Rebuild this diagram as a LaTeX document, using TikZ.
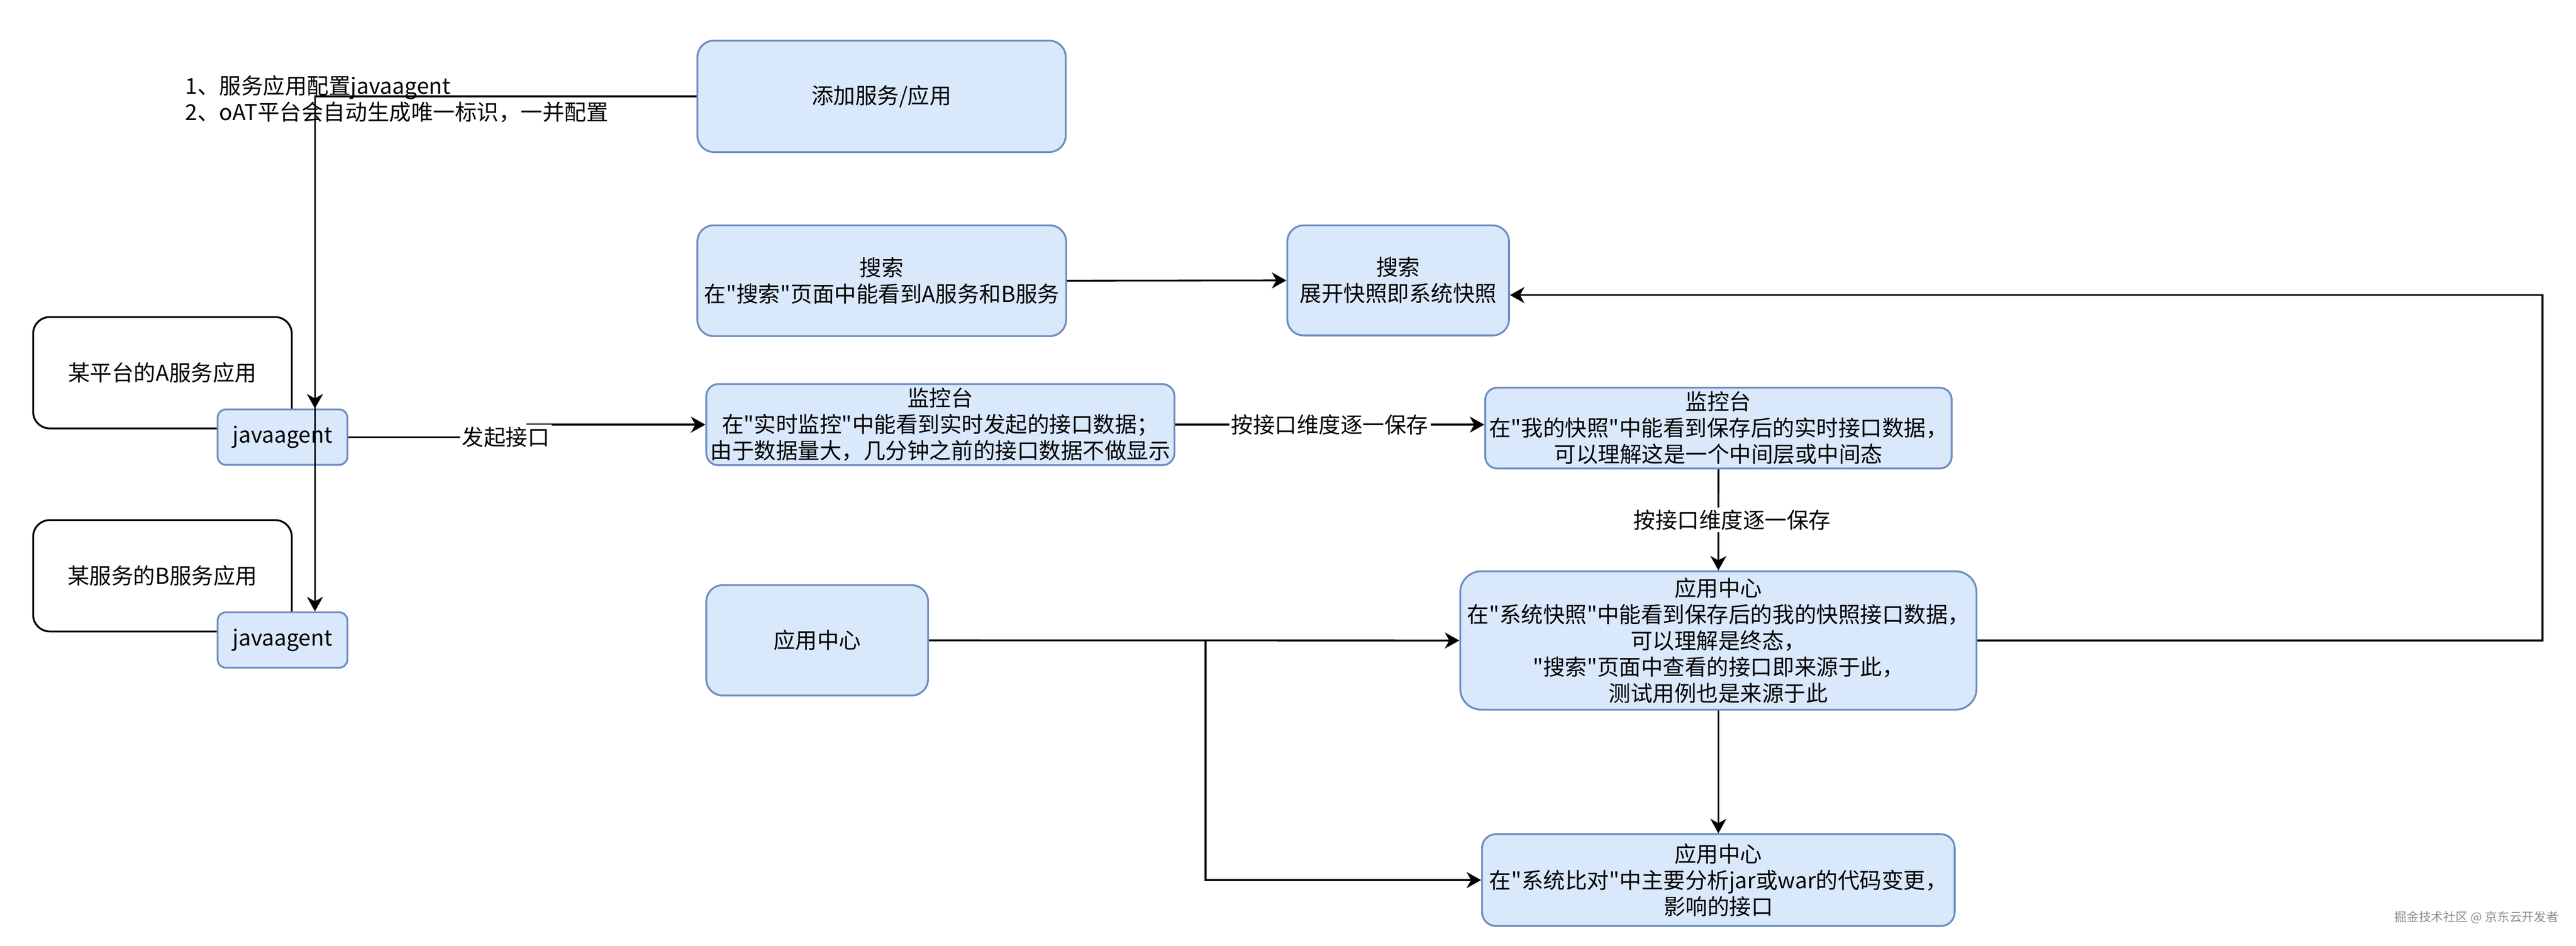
\documentclass[tikz,border=0pt]{standalone}
\usepackage{fontspec}
\newfontfamily\cjkfont{Noto Sans CJK SC}
\usepackage{tikz}
\usetikzlibrary{arrows.meta}
\definecolor{boxfill}{HTML}{DAE8FC}
\definecolor{boxline}{HTML}{6C8EBF}
\tikzset{
	bluebox/.style={
		% The shape:
		shape=rectangle,rounded corners=#1,
		% The border:
		draw=boxline,line width=0.84pt,
		% The filling:
		fill=boxfill,
		% The text:
		inner sep=0pt,align=center,
	},
	bluebox/.default=7.5pt}
\tikzset{
	appbox/.style={
		% The shape:
		shape=rectangle,rounded corners=7.6pt,
		minimum width=118.1pt,minimum height=50.85pt,
		% The border:
		draw=black,line width=0.84pt,
		% The filling:
		fill=white,
		inner sep=0pt,align=center,
	}}
\tikzset{
	agent/.style={
		bluebox=3.8pt,
		minimum width=59.25pt,minimum height=25.3pt,
	}}
\tikzset{
	conn/.style={->,line width=0.84pt},
	edgelabel/.style={fill=white,inner sep=1pt},
}

\begin{document}
\begin{tikzpicture}[x=0.75pt,y=-0.75pt,
	>={Stealth[length=6.6pt,width=7.3pt,inset=2pt]},
	font=\cjkfont\fontsize{10pt}{12pt}\selectfont]
\useasboundingbox (0,0) rectangle (1568.3,575.7);

% left column: the two services and their agents
\node[appbox] (appA) at (98.9,226.9) {某平台的A服务应用};
\node[agent] (jaA) at (172,266.1) {javaagent};
\node[appbox] (appB) at (98.9,350.5) {某服务的B服务应用};
\node[agent] (jaB) at (172,389.6) {javaagent};

% middle column
\node[bluebox=7.6pt,minimum width=168.2pt,minimum height=50.9pt] (add) at (536.7,58.65) {添加服务/应用};
\node[bluebox,minimum width=168.4pt,minimum height=50.6pt] (searchA) at (536.8,170.9) {搜索\\在"搜索"页面中能看到A服务和B服务};
\node[bluebox=5.5pt,minimum width=213.75pt,minimum height=37.05pt] (mon1) at (572.5,258.5) {监控台\\在"实时监控"中能看到实时发起的接口数据；\\由于数据量大，几分钟之前的接口数据不做显示};
\node[bluebox,minimum width=101.25pt,minimum height=50.4pt] (app0) at (497.5,389.8) {应用中心};

% right column
\node[bluebox,minimum width=101.25pt,minimum height=50.25pt] (searchB) at (851.2,170.7) {搜索\\展开快照即系统快照};
\node[bluebox=5.5pt,minimum width=213pt,minimum height=36.9pt] (mon2) at (1046.2,260.6) {监控台\\在"我的快照"中能看到保存后的实时接口数据，\\可以理解这是一个中间层或中间态};
\node[bluebox=9.5pt,minimum width=235.7pt,minimum height=63.15pt] (app1) at (1046.15,389.9) {应用中心\\在"系统快照"中能看到保存后的我的快照接口数据，\\可以理解是终态，\\"搜索"页面中查看的接口即来源于此，\\测试用例也是来源于此};
\node[bluebox=6.3pt,minimum width=215.8pt,minimum height=41.9pt] (app2) at (1046.15,535.75) {应用中心\\在"系统比对"中主要分析jar或war的代码变更，\\影响的接口};

\node[anchor=west,align=left,inner sep=0pt] (note) at (112.6,60.25) {1、服务应用配置javaagent\\2、oAT平台会自动生成唯一标识，一并配置};
\node[text=black!45,font=\cjkfont\fontsize{5.6pt}{6pt}\selectfont] (mark) at (1507.7,558.4) {掘金技术社区 @ 京东云开发者};

% connectors
\draw[conn] (add.west) -| ([xshift=14.8pt]jaA.north);
\draw[conn] (add.west) -| ([xshift=14.8pt]jaB.north);
\draw[conn] (jaA.east) -- node[edgelabel,pos=0.88] {发起接口} ++(109,0) |- (mon1.west);
\draw[conn] (searchA.east) -- (searchB.west);
\draw[conn] (mon1.east) -- node[edgelabel] {按接口维度逐一保存} (mon1.east -| mon2.west);
\draw[conn] (mon2.south) -- node[edgelabel,xshift=6.3pt] {按接口维度逐一保存} (app1.north);
\draw[conn] (app0.east) -- (app1.west);
\coordinate (split) at (734,389.8);
\draw[conn] (split) |- (app2.west);
\draw[conn] (app1.south) -- (app2.north);
\draw[conn] (app1.east) -- ++(344.1,0) |- ([yshift=-6.7pt]searchB.east);
\end{tikzpicture}
\end{document}
